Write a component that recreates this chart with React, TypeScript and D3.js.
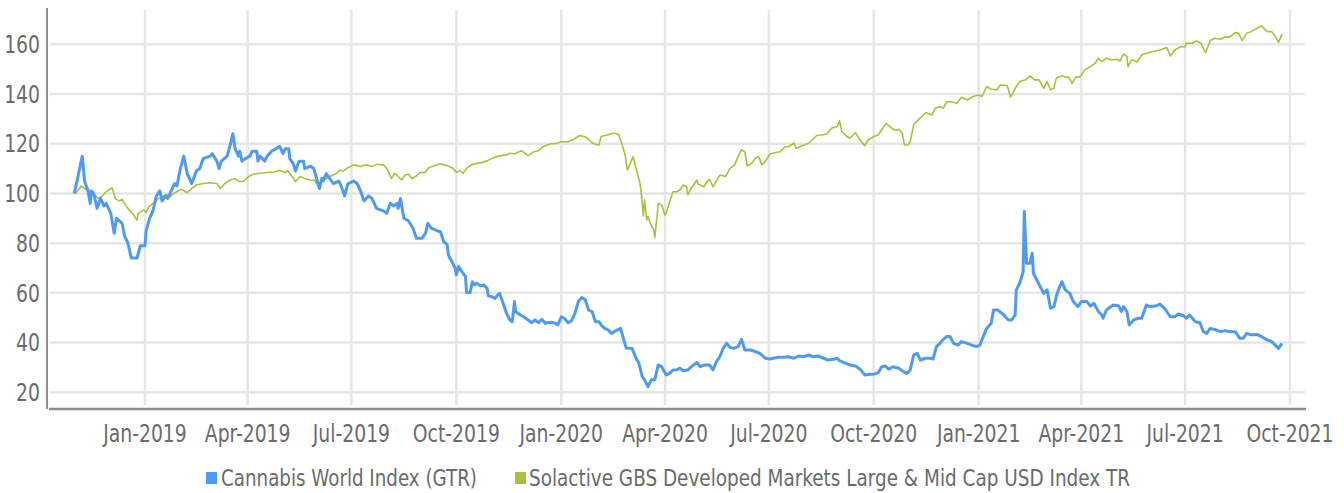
import * as d3 from "d3";

// day offsets from 2019-01-01 and index values
const cannabis: [number, number][] = [
  [-62, 100], [-55, 115], [-53, 105], [-50, 101], [-48, 96], [-47, 101], [-45, 100], [-42, 94],
  [-39, 98], [-36, 95], [-34, 96], [-30, 92], [-27, 84], [-25, 90], [-20, 88], [-18, 83],
  [-15, 80], [-12, 74], [-7, 74], [-4, 79], [0, 79], [1, 85], [4, 90], [7, 93], [10, 99],
  [13, 101], [15, 97], [18, 99], [20, 98], [23, 101], [26, 104], [28, 103], [31, 110],
  [34, 115], [37, 108], [41, 104], [45, 109], [48, 110], [51, 114], [57, 115], [59, 116],
  [63, 113], [65, 110], [67, 113], [72, 115], [75, 120], [77, 124], [79, 118], [82, 115],
  [83, 117], [85, 113], [88, 114], [92, 115], [94, 117], [98, 117], [99, 113], [101, 115],
  [105, 113], [107, 115], [111, 117], [115, 118], [118, 119], [121, 116], [123, 118],
  [126, 118], [127, 114], [130, 112], [132, 109], [135, 113], [139, 113], [140, 110],
  [145, 111], [148, 110], [153, 102], [155, 106], [156, 105], [159, 108], [162, 106],
  [165, 104], [170, 105], [172, 103], [175, 99], [178, 104], [183, 105], [186, 104],
  [189, 101], [192, 97], [196, 99], [199, 98], [203, 94], [209, 93], [212, 92], [215, 96],
  [218, 95], [221, 96], [222, 94], [224, 98], [227, 90], [231, 89], [235, 86], [238, 82],
  [243, 82], [246, 84], [248, 88], [251, 86], [256, 85], [259, 84.6], [262, 80.6],
  [265, 79.3], [266, 75.3], [269, 72.6], [272, 69.9], [273, 67.2], [275, 70.6], [278, 68.5],
  [281, 66.5], [282, 60.1], [285, 60.1], [287, 64.5], [289, 63.2], [291, 63.9], [294, 62.8],
  [297, 63.2], [300, 61.8], [301, 58.8], [304, 58.5], [307, 57.8], [310, 59.6], [311, 59.8],
  [314, 55.8], [317, 51.8], [320, 49.1], [322, 48.4], [324, 56.5], [325, 52.5], [329, 51.1],
  [332, 50.4], [336, 49.1], [339, 48], [342, 49.1], [345, 48], [348, 49.4], [351, 47.8],
  [355, 48.2], [360, 47.8], [362, 47.1], [365, 50.4], [368, 49.7], [371, 48], [374, 48.8],
  [377, 51.8], [380, 56.5], [383, 58.1], [386, 57.2], [389, 53.1], [392, 52.5], [393, 51.1],
  [395, 48.4], [398, 48.4], [400, 47.1], [403, 45.7], [406, 45.1], [409, 43.7], [414, 45.1],
  [417, 45.7], [419, 42.4], [422, 37.7], [427, 37.7], [430, 34.3], [433, 31.7], [436, 26.3],
  [438, 25], [441, 22.3], [444, 25], [447, 25], [450, 31], [453, 30.3], [457, 27], [460, 27.6],
  [463, 29], [466, 29], [469, 29.7], [472, 28.7], [476, 29], [481, 31], [484, 32], [487, 30.3],
  [491, 31], [495, 31], [498, 29], [501, 32.3], [504, 34.3], [507, 37.7], [510, 39.7],
  [513, 38], [516, 37.7], [520, 38.4], [523, 41.3], [526, 37], [531, 37], [535, 36.4],
  [539, 35.7], [544, 33.7], [548, 33.4], [551, 33.7], [555, 34.1], [560, 34.1], [564, 34.3],
  [569, 33.7], [573, 34.6], [577, 34.3], [582, 35], [586, 34.3], [590, 34.6], [595, 33.7],
  [599, 33], [604, 33.3], [607, 33.7], [609, 32.7], [614, 31.7], [618, 31], [623, 30.6],
  [627, 29.3], [631, 27], [636, 27.3], [640, 27.4], [643, 27.9], [646, 30.3], [649, 30.6],
  [652, 29.3], [656, 30.3], [661, 29.7], [665, 28.3], [668, 27.6], [671, 29], [674, 35],
  [677, 35.7], [680, 33], [684, 33.7], [688, 33.7], [691, 33.4], [694, 38.4], [697, 39.7],
  [700, 41.3], [703, 42.4], [706, 42.4], [709, 39.7], [713, 39], [716, 40.4], [721, 39.7],
  [725, 39], [729, 38.4], [732, 39], [735, 42.4], [738, 45.7], [742, 47.8], [744, 53.1],
  [748, 53.1], [753, 51.1], [757, 49.1], [760, 49.1], [763, 51.1], [764, 61.2], [767, 63.9],
  [770, 68.5], [771, 92.7], [773, 71.9], [776, 71.9], [778, 75.9], [779, 67.9], [782, 65.2],
  [785, 62.5], [788, 59.8], [791, 61.2], [794, 53.8], [797, 54.5], [799, 58.5], [802, 62.5],
  [804, 64.5], [807, 61.2], [811, 59.8], [814, 56.5], [818, 54.5], [821, 56.5], [826, 56.5],
  [829, 54.7], [832, 55.8], [836, 52.5], [839, 51.1], [840, 49.8], [843, 53.1], [849, 55.1],
  [854, 54.7], [856, 52.5], [858, 54.5], [861, 52.5], [863, 47.1], [867, 49.1], [871, 49.8],
  [874, 49.8], [878, 55.1], [881, 54.5], [886, 54.7], [890, 55.5], [894, 53.8], [899, 50.4],
  [903, 50.4], [906, 51.5], [911, 50.7], [913, 49.8], [916, 51.1], [921, 48.4], [925, 48],
  [928, 44.4], [931, 43.7], [934, 45.7], [938, 45.3], [943, 44.4], [947, 44.8], [951, 44.4],
  [956, 44.4], [960, 41.7], [963, 41.7], [966, 43.7], [970, 43.1], [975, 43.3], [979, 42.4],
  [984, 41.1], [988, 40.4], [991, 39], [994, 37.7], [997, 39.7],
];

const solactive: [number, number][] = [
  [-62, 100], [-60, 100.5], [-56, 103], [-53, 102], [-48, 101], [-45, 99.5], [-41, 98],
  [-38, 98.7], [-34, 100.7], [-29, 102.3], [-26, 98], [-23, 97], [-20, 97.6], [-18, 96],
  [-15, 94], [-10, 91.3], [-7, 89.3], [-6, 92], [-1, 93.4], [1, 92.3], [3, 94.4], [7, 96],
  [10, 97.4], [15, 98.7], [19, 99.7], [22, 98.7], [25, 100], [29, 101], [32, 101.7],
  [37, 100.3], [41, 102], [45, 103.4], [51, 104], [57, 104.3], [63, 104], [66, 102],
  [70, 104], [75, 105.4], [79, 106], [82, 104.8], [86, 104.8], [91, 106.8], [95, 107.7],
  [101, 108.1], [107, 108.4], [113, 108.6], [118, 109.2], [123, 108.4], [125, 109.2],
  [129, 106.8], [132, 104.8], [136, 106.8], [140, 106], [145, 105.4], [149, 105.2],
  [152, 103], [155, 104.8], [159, 106], [162, 106.8], [165, 107.4], [168, 108.1],
  [171, 109.4], [174, 109], [177, 110.1], [183, 111.5], [189, 110.8], [194, 111.5],
  [199, 110.8], [203, 111.7], [209, 111.5], [212, 110.1], [216, 106], [219, 108.1],
  [222, 106.8], [225, 105.4], [228, 107.4], [231, 107.8], [234, 106], [238, 107],
  [241, 108.4], [246, 108.4], [248, 110.1], [253, 111], [259, 111.9], [265, 111.2],
  [270, 110.1], [273, 108.4], [276, 109.2], [279, 108.1], [282, 110.1], [286, 111.5],
  [291, 112.1], [295, 112.4], [300, 113.1], [304, 114.1], [308, 114.8], [313, 115.3],
  [317, 115.5], [320, 116.2], [324, 115.9], [330, 117.2], [333, 116.2], [336, 115.2],
  [341, 116.8], [345, 117.2], [349, 118.8], [355, 119.9], [361, 120.2], [365, 120.8],
  [371, 120.8], [376, 121.8], [381, 123.3], [387, 122.6], [392, 120.4], [395, 119.8],
  [398, 119.5], [400, 122.9], [405, 123.5], [411, 124.2], [415, 123.9], [418, 120.2],
  [421, 115.5], [423, 109.4], [427, 113.7], [428, 114.8], [431, 109.4], [434, 104.1],
  [435, 100.7], [437, 90.9], [438, 97.4], [440, 89.3], [441, 90.7], [443, 88], [446, 85.3],
  [447, 82.2], [449, 90.7], [450, 96], [453, 95.4], [456, 91.3], [457, 92], [460, 96.7],
  [463, 100.7], [466, 100.7], [469, 101.4], [472, 103.4], [475, 102.7], [476, 99.5],
  [479, 102.1], [484, 105.4], [485, 103.8], [490, 102.7], [493, 104.8], [495, 105.7],
  [498, 102.7], [504, 107.4], [509, 106.8], [513, 110.1], [517, 111.5], [520, 114.8],
  [523, 117.5], [526, 116.8], [528, 111.1], [532, 112.1], [535, 114.1], [538, 114.8],
  [541, 111.5], [544, 112.9], [548, 115.9], [552, 116.4], [557, 116.8], [561, 118.8],
  [564, 118.8], [569, 120.2], [571, 118.2], [576, 119.2], [582, 120.2], [585, 121.5],
  [589, 123.3], [593, 123.5], [598, 123.9], [602, 126.2], [607, 126.9], [609, 129.2],
  [611, 124.9], [615, 123.1], [618, 122.2], [623, 124.5], [627, 121.5], [631, 119.2],
  [634, 121.5], [639, 122.9], [643, 123.5], [646, 125.6], [650, 128.2], [655, 126.2],
  [658, 125.3], [661, 125.8], [664, 124.2], [666, 119.5], [669, 119.5], [671, 120.8],
  [674, 127.5], [678, 129.6], [681, 130.9], [685, 132.5], [690, 131.6], [693, 134.3],
  [697, 134.9], [700, 134.3], [703, 136.9], [707, 136.9], [712, 136.3], [716, 138.7],
  [721, 137.6], [726, 139], [731, 139.6], [734, 139], [738, 143], [742, 141.9], [747, 141.7],
  [750, 143.6], [756, 143.4], [759, 138.7], [764, 143], [767, 145], [772, 145.7], [776, 147.3],
  [780, 145.7], [784, 145.7], [788, 142.3], [791, 145], [794, 141.7], [797, 142.3],
  [799, 146.3], [804, 147.3], [807, 146.8], [810, 146.8], [813, 144.3], [816, 146.8],
  [820, 147], [824, 149.7], [829, 151], [833, 152.3], [836, 154.4], [839, 153], [843, 154.4],
  [848, 153.7], [852, 154], [855, 153.3], [858, 156.1], [861, 155], [862, 151], [865, 153.7],
  [870, 153], [874, 155.7], [878, 156.4], [884, 157.1], [890, 157.7], [896, 158.7],
  [899, 155.3], [903, 157.7], [908, 159], [912, 159], [913, 160.4], [918, 160.4],
  [922, 161.3], [926, 160.4], [930, 156.6], [934, 161.5], [938, 162.4], [943, 162],
  [947, 162.9], [951, 162.9], [956, 164.7], [959, 164.4], [962, 161.5], [966, 164.4],
  [970, 165.1], [975, 166.4], [979, 167.4], [984, 165.1], [988, 165.1], [991, 163.3],
  [994, 160.8], [997, 164.2],
];

const yTicks = [20, 40, 60, 80, 100, 120, 140, 160];
const seriesNames = ["Cannabis World Index (GTR)", "Solactive GBS Developed Markets Large & Mid Cap USD Index TR"];
const seriesColors = ["#4e9bf7", "#a9c23a"];

const W = 1344;
const H = 493;
const FONT = "'DejaVu Sans Condensed', 'Roboto', sans-serif";
const SQUEEZE = 0.87; // the original uses a narrower face than anything installed
const base = Date.UTC(2019, 0, 1);
const toDate = (d: number) => new Date(base + d * 864e5);

export default function App() {
  const x = d3
    .scaleUtc()
    .domain([new Date(Date.UTC(2019, 0, 1)), new Date(Date.UTC(2021, 9, 1))])
    .range([145, 1290]);
  const y = d3.scaleLinear().domain([20, 160]).range([392.3, 44.3]);
  const xTicks = d3.utcMonth.every(3)!.range(new Date(Date.UTC(2019, 0, 1)), new Date(Date.UTC(2021, 9, 2)));
  const fmt = d3.utcFormat("%b-%Y");

  const line = d3
    .line<[number, number]>()
    .x((d) => x(toDate(d[0])))
    .y((d) => y(d[1]));

  const left = 48;
  const right = 1305;
  const top = 10;
  const bottom = 409;

  return (
    <svg
      width={W}
      height={H}
      style={{ position: "absolute", left: 0, top: 0, background: "#fff" }}
      fontFamily={FONT}
    >
      <g>
        {yTicks.map((t) => (
          <line key={t} x1={left + 2} x2={right} y1={y(t)} y2={y(t)} stroke="#e6e6e6" strokeWidth={2.5} />
        ))}
        {xTicks.map((t) => (
          <line key={+t} x1={x(t)} x2={x(t)} y1={top} y2={bottom - 4} stroke="#e6e6e6" strokeWidth={2.5} />
        ))}
      </g>
      <line x1={left - 1} x2={left - 1} y1={8} y2={bottom} stroke="#8f8f8f" strokeWidth={2} />
      <line x1={left + 1} x2={right + 1} y1={bottom} y2={bottom} stroke="#8f8f8f" strokeWidth={2.5} />
      <g fill="#6b6b6b" fontSize={24}>
        {yTicks.map((t) => (
          <g key={t} transform={`translate(40,${y(t)}) scale(${SQUEEZE},1)`}>
            <text dy="0.36em" textAnchor="end">
              {t}
            </text>
          </g>
        ))}
        {xTicks.map((t) => (
          <g key={+t} transform={`translate(${x(t)},442) scale(${SQUEEZE},1)`}>
            <text textAnchor="middle">{fmt(t)}</text>
          </g>
        ))}
      </g>
      <path d={line(solactive) ?? ""} fill="none" stroke={seriesColors[1]} strokeWidth={1.6} strokeLinejoin="round" />
      <path d={line(cannabis) ?? ""} fill="none" stroke={seriesColors[0]} strokeWidth={3} strokeLinejoin="round" />
      <g fontSize={23} fill="#6b6b6b">
        <rect x={206} y={472} width={11} height={12} fill={seriesColors[0]} />
        <text x={221} y={486} textLength={256} lengthAdjust="spacingAndGlyphs">
          {seriesNames[0]}
        </text>
        <rect x={515} y={472} width={11} height={12} fill={seriesColors[1]} />
        <text x={529} y={486} textLength={601} lengthAdjust="spacingAndGlyphs">
          {seriesNames[1]}
        </text>
      </g>
    </svg>
  );
}
